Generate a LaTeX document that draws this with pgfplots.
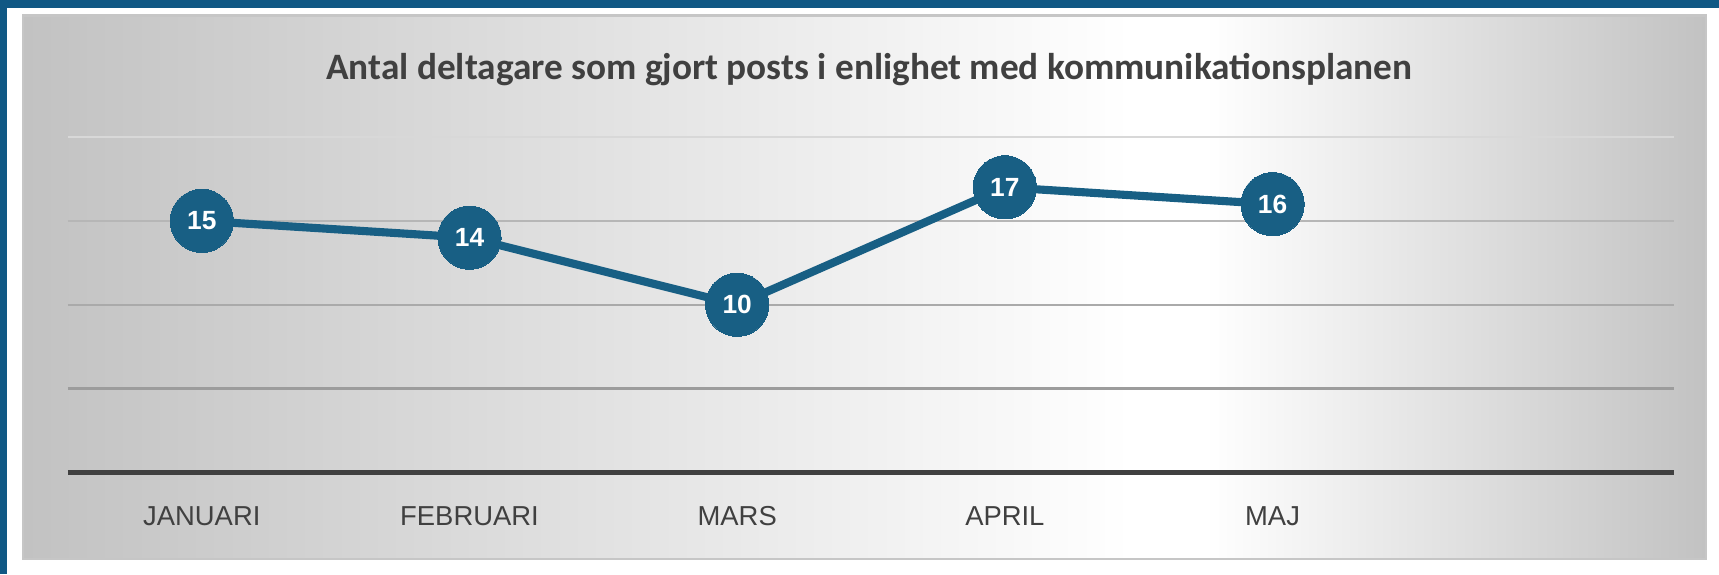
\documentclass[border=0pt]{standalone}
\usepackage{pgfplots}
\pgfplotsset{compat=1.18}
\usepackage{fontspec}
\setmainfont{Carlito}
\newfontfamily\arialf{Liberation Sans}
\definecolor{frameblue}{RGB}{16,88,132}
\definecolor{lineblue}{RGB}{24,95,132}
\definecolor{txt}{RGB}{64,64,64}
\definecolor{bgedge}{RGB}{194,194,194}
\definecolor{gridA}{RGB}{216,216,216}
\definecolor{gridB}{RGB}{182,182,182}
\definecolor{gridC}{RGB}{170,170,170}
\definecolor{gridD}{RGB}{156,156,156}
\definecolor{axc}{RGB}{64,64,64}
\begin{document}
\begin{tikzpicture}
\begin{scope}[shift={(-31bp,-46.5bp)}, x=0.5bp, y=0.5bp]
\fill[white] (0,0) rectangle (1568,524);
\fill[frameblue] (0,0) rectangle (6,524);
\fill[frameblue] (0,517) rectangle (1568,524);
% panel background
\shade[left color=bgedge, right color=white] (21,14) rectangle (1032,510);
\fill[white] (1030,14) rectangle (1102,510);
\shade[left color=white, right color=bgedge] (1100,14) rectangle (1556,510);
\draw[gray!45, line width=1.2] (21,14) rectangle (1556,510);
\node[font=\bfseries\fontsize{17bp}{20bp}\selectfont, text=txt] at (793,461)
  {Antal deltagare som gjort posts i enlighet med kommunikationsplanen};
\end{scope}
\begin{axis}[
  scale only axis,
  width=732.5bp, height=153bp,
  xmin=-0.5, xmax=5.5, ymin=0, ymax=20,
  axis line style={draw=none},
  major tick length=0pt,
  xtick={0,1,2,3,4},
  xticklabels={JANUARI,FEBRUARI,MARS,APRIL,MAJ},
  ytick=\empty,
  xticklabel style={font=\arialf\fontsize{12.5bp}{15bp}\selectfont, text=txt, yshift=-12bp},
  clip=false,
  /pgf/number format/assume math mode=true,
  nodes near coords align=center,
]
\addplot[gridA, line width=1.1bp, forget plot] coordinates {(-0.5,20) (5.5,20)};
\addplot[gridB, line width=1.1bp, forget plot] coordinates {(-0.5,15) (5.5,15)};
\addplot[gridC, line width=1.1bp, forget plot] coordinates {(-0.5,10) (5.5,10)};
\addplot[gridD, line width=1.1bp, forget plot] coordinates {(-0.5,5) (5.5,5)};
\addplot[axc, line width=2.6bp, forget plot] coordinates {(-0.5,0) (5.5,0)};
\addplot[lineblue, line width=3.7bp, mark=*, mark size=14.4bp,
  mark options={fill=lineblue, draw=lineblue, line width=0pt},
  nodes near coords,
  every node near coord/.append style={font=\arialf\bfseries\fontsize{12bp}{14bp}\selectfont, text=white, anchor=center}]
  coordinates {(0,15) (1,14) (2,10) (3,17) (4,16)};
\end{axis}
\end{tikzpicture}
\end{document}
